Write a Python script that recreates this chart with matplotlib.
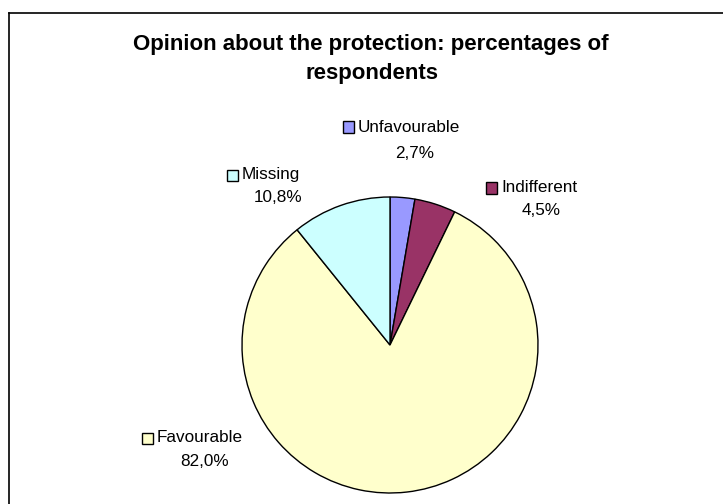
import matplotlib
matplotlib.use('Agg')
import matplotlib.pyplot as plt
from matplotlib.patches import Rectangle
from matplotlib.lines import Line2D

categories = ['Unfavourable', 'Indifferent', 'Favourable', 'Missing']
percentages = [2.7, 4.5, 82.0, 10.8]
colors = ['#9999FF', '#993366', '#FFFFCC', '#CCFFFF']
title_lines = ['Opinion about the protection: percentages of', 'respondents']

# label layout in pixels from top-left: square left x, name y, percent centre x, percent y
label_pos = [(343, 127, 415, 153),
             (486, 188, 541, 210),
             (142, 438, 205, 462),
             (227, 175, 278, 198)]

W, H = 723, 504
plt.rcParams['font.family'] = ['Liberation Sans', 'DejaVu Sans']
fig = plt.figure(figsize=(W / 100, H / 100), dpi=100)


def fx(x):
    return x / W


def fy(y):
    return 1 - y / H


# pie
cx, cy, r = 390, 345, 148
ax = fig.add_axes([fx(cx - r), fy(cy + r), 2 * r / W, 2 * r / H])
ax.pie(percentages, colors=colors, startangle=90, counterclock=False,
       wedgeprops=dict(edgecolor='black', linewidth=1))
ax.set_xlim(-1, 1)
ax.set_ylim(-1, 1)
ax.set_aspect('equal')
ax.axis('off')

# labels
for name, val, col, (sx, ny, pcx, py) in zip(categories, percentages, colors, label_pos):
    sq = 11
    fig.add_artist(Rectangle((fx(sx), fy(ny + sq / 2)), sq / W, sq / H,
                             transform=fig.transFigure, facecolor=col,
                             edgecolor='black', linewidth=1))
    fig.text(fx(sx + sq + 4), fy(ny), name, ha='left', va='center', fontsize=12.3)
    fig.text(fx(pcx), fy(py), ('%.1f' % val).replace('.', ',') + '%',
             ha='center', va='center', fontsize=12.3)

# title
fig.text(fx(371), fy(50), title_lines[0], ha='center', va='baseline',
         fontsize=16, fontweight='bold')
fig.text(fx(372), fy(79), title_lines[1], ha='center', va='baseline',
         fontsize=16, fontweight='bold')

# chart border (right and bottom edges are outside the image)
fig.add_artist(Line2D([fx(9), fx(9)], [0, fy(13)], transform=fig.transFigure,
                      color='black', linewidth=1.2))
fig.add_artist(Line2D([fx(9), 1], [fy(13), fy(13)], transform=fig.transFigure,
                      color='black', linewidth=1.2))

fig.savefig('out.png', dpi=100)
